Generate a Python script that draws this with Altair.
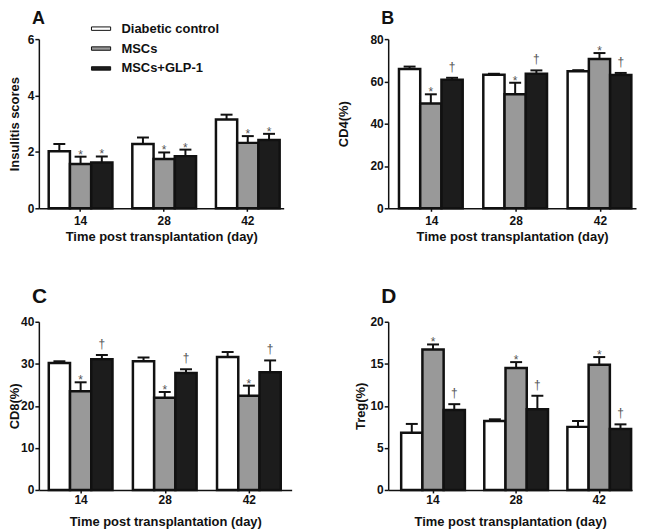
import altair as alt
import pandas as pd

days = ["14", "28", "42"]
groups = ["Diabetic control", "MSCs", "MSCs+GLP-1"]
fills = ["#ffffff", "#999999", "#1c1c1c"]
FONT = "Liberation Sans"

# Panel A: Insulitis scores (mean, SEM) per group across days
a_dc = [2.02, 2.28, 3.15]; a_dc_sem = [0.26, 0.23, 0.17]
a_msc = [1.57, 1.75, 2.32]; a_msc_sem = [0.26, 0.23, 0.24]
a_glp = [1.62, 1.85, 2.42]; a_glp_sem = [0.22, 0.23, 0.22]
a_marks = ["", "*", "*"]

# Panel B: CD4(%)
b_dc = [65.9, 63.1, 64.8]; b_dc_sem = [1.1, 0.5, 0.5]
b_msc = [49.5, 53.9, 70.6]; b_msc_sem = [4.4, 5.5, 2.8]
b_glp = [60.8, 63.6, 63.0]; b_glp_sem = [0.9, 1.6, 1.0]
b_marks = ["", "*", "\u2020"]

# Panel C: CD8(%)
c_dc = [30.2, 30.6, 31.6]; c_dc_sem = [0.4, 0.9, 1.2]
c_msc = [23.5, 21.9, 22.4]; c_msc_sem = [2.1, 1.4, 2.4]
c_glp = [31.1, 27.8, 28.0]; c_glp_sem = [1.0, 0.9, 2.8]
c_marks = ["", "*", "\u2020"]

# Panel D: Treg(%)
d_dc = [6.8, 8.2, 7.5]; d_dc_sem = [1.05, 0.2, 0.7]
d_msc = [16.7, 14.5, 14.9]; d_msc_sem = [0.6, 0.7, 0.9]
d_glp = [9.5, 9.6, 7.25]; d_glp_sem = [0.7, 1.6, 0.55]
d_marks = ["", "*", "\u2020"]


def build(series, sems, marks):
    rows = []
    for gi, g in enumerate(groups):
        for di, d in enumerate(days):
            m = series[gi][di]
            rows.append({"day": d, "group": g, "mean": m,
                         "upper": m + sems[gi][di], "ann": marks[gi]})
    return pd.DataFrame(rows)


def panel(df, letter, ytitle, ymax, ystep, width, height, pi, po, align,
          title_x, letter_y, xlabel_pad, xtitle_y, legend=False):
    xs = alt.Scale(domain=days, paddingInner=pi, paddingOuter=po, align=align)
    xaxis = alt.Axis(title="Time post transplantation (day)", labelAngle=0,
                     labelFont=FONT, labelFontSize=12, labelFontWeight="bold",
                     labelColor="#111", labelPadding=xlabel_pad, tickSize=3,
                     tickColor="#111", tickWidth=1.5, domainColor="#111",
                     domainWidth=1.5, titleFont=FONT, titleFontSize=13,
                     titleFontWeight="bold", titleColor="#111", titleY=xtitle_y,
                     titleBaseline="top", grid=False)
    yaxis = alt.Axis(title=ytitle, values=list(range(0, ymax + 1, ystep)),
                     labelFont=FONT, labelFontSize=12, labelFontWeight="bold",
                     labelColor="#111", labelPadding=1, tickSize=4,
                     tickColor="#111", tickWidth=1.5, domainColor="#111",
                     domainWidth=1.5, titleFont=FONT, titleFontSize=13,
                     titleFontWeight="bold", titleColor="#111", titleX=title_x,
                     titleBaseline="middle", grid=False)
    ys = alt.Scale(domain=[0, ymax], nice=False)
    xo = alt.XOffset("group:N", scale=alt.Scale(domain=groups, paddingInner=0,
                                                paddingOuter=0))
    X = alt.X("day:N", scale=xs, axis=xaxis)
    if legend:
        leg = alt.Legend(title=None, orient="none", legendX=52, legendY=-21,
                         symbolType="M-1,-0.18H1V0.18H-1Z", symbolSize=370,
                         symbolStrokeColor="#111", symbolStrokeWidth=1,
                         labelFont=FONT, labelFontSize=13, labelFontWeight="bold",
                         labelColor="#111", labelOffset=10, rowPadding=2,
                         padding=0)
    else:
        leg = None
    base = alt.Chart(df)
    bars = base.mark_bar(stroke="#111", strokeWidth=2.5).encode(
        x=X, xOffset=xo,
        y=alt.Y("mean:Q", scale=ys, axis=yaxis),
        fill=alt.Fill("group:N", scale=alt.Scale(domain=groups, range=fills),
                      legend=leg),
    )
    err = base.mark_rule(color="#111", strokeWidth=2).encode(
        x=X, xOffset=xo,
        y=alt.Y("mean:Q", scale=ys, axis=yaxis), y2="upper:Q")
    cap = base.mark_tick(color="#111", thickness=2, size=12, opacity=1).encode(
        x=X, xOffset=xo,
        y=alt.Y("upper:Q", scale=ys, axis=yaxis))
    star = base.transform_filter("datum.ann == '*'").mark_text(
        font=FONT, fontSize=12, color="#555", baseline="alphabetic", dy=2).encode(
        x=X, xOffset=xo,
        y=alt.Y("upper:Q", scale=ys, axis=yaxis), text="ann:N")
    dag = base.transform_filter("datum.ann == '\u2020'").mark_text(
        font=FONT, fontSize=12, color="#555", baseline="alphabetic", dy=-7).encode(
        x=X, xOffset=xo,
        y=alt.Y("upper:Q", scale=ys, axis=yaxis), text="ann:N")
    lab = alt.Chart(pd.DataFrame({"t": [letter]})).mark_text(
        font=FONT, fontSize=18 if letter in "AB" else 21, fontWeight="bold",
        align="left", baseline="top", color="#111").encode(
        text="t:N", x=alt.value(-7), y=alt.value(letter_y))
    return alt.layer(bars, err, cap, star, dag, lab).properties(
        width=width, height=height)


dfA = build([a_dc, a_msc, a_glp], [a_dc_sem, a_msc_sem, a_glp_sem], a_marks)
dfB = build([b_dc, b_msc, b_glp], [b_dc_sem, b_msc_sem, b_glp_sem], b_marks)
dfC = build([c_dc, c_msc, c_glp], [c_dc_sem, c_msc_sem, c_glp_sem], c_marks)
dfD = build([d_dc, d_msc, d_glp], [d_dc_sem, d_msc_sem, d_glp_sem], d_marks)

pA = panel(dfA, "A", "Insulitis scores", 6, 2, 246, 170, 0.238, 0.083, 0.71,
           -24, -29, 4, 22, legend=True)
pB = panel(dfB, "B", "CD4(%)", 80, 20, 249, 170, 0.221, 0.08, 0.8,
           -45, -29, 4, 22)
pC = panel(dfC, "C", "CD8(%)", 40, 10, 254, 169, 0.231, 0.118, 0.5,
           -24, -36, 2, 26)
pD = panel(dfD, "D", "Treg(%)", 20, 5, 245, 169, 0.234, 0.084, 0.93,
           -28, -36, 2, 26)

chart = alt.concat(pA, pB, pC, pD, columns=2,
                   spacing={"row": 41, "column": 44}).resolve_scale(
    x="independent", y="independent", fill="independent"
).resolve_legend(fill="independent").properties(
    padding=0
).configure_view(stroke="transparent").configure_axis(grid=False)

chart.save("out.html", embed_options={"renderer": "svg", "actions": False})
